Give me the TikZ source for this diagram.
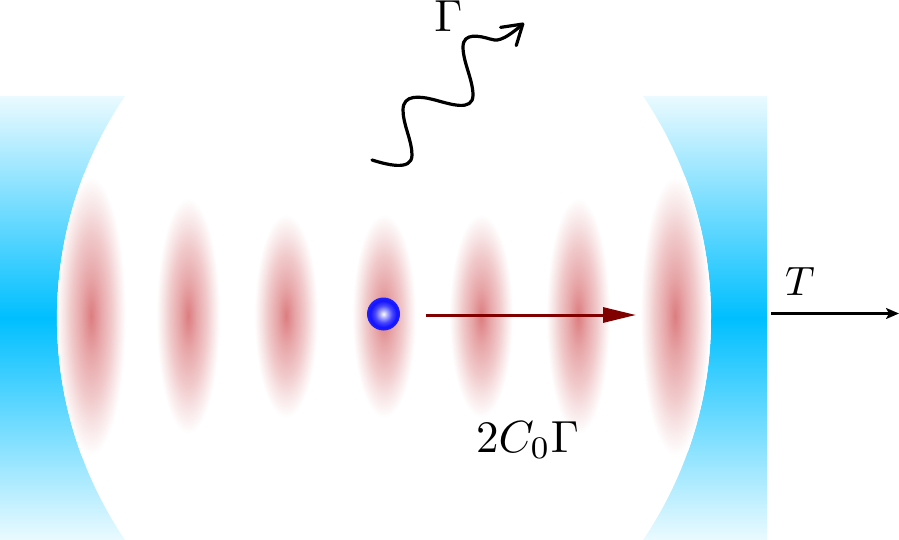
\documentclass[tikz,border=0pt]{standalone}
\usetikzlibrary{arrows.meta,shadings}
\definecolor{sky}{RGB}{0,191,255}
\definecolor{blobc}{RGB}{220,125,128}
\pgfdeclareradialshading{blobshade}{\pgfpoint{0bp}{0bp}}{
  color(0bp)=(blobc);
  color(7bp)=(blobc!68!white);
  color(14bp)=(blobc!42!white);
  color(19bp)=(blobc!20!white);
  color(24bp)=(white);
  color(50bp)=(white)}
\pgfdeclareradialshading{atomshade}{\pgfpoint{0bp}{0bp}}{
  color(0bp)=(white);
  color(6bp)=(blue!35!white);
  color(13bp)=(blue!72!white);
  color(20bp)=(blue!92!white);
  color(25bp)=(blue!88!white);
  color(50bp)=(blue!88!white)}
\pgfdeclareverticalshading{mirrorshade}{100bp}{
  color(0bp)=(sky!8!white);
  color(25bp)=(sky!8!white);
  color(50bp)=(sky);
  color(75bp)=(sky!8!white);
  color(100bp)=(sky!8!white)}
\tikzset{
  x=1pt,y=-1pt,
  mirror/.style={shading=mirrorshade},
  lab/.style={inner sep=0pt,scale=4.1},
  biglab/.style={inner sep=0pt,scale=4.5},
  coupling/.style={draw={rgb,255:red,128;green,0;blue,0},line width=3pt,-{Triangle[length=33pt,width=15pt]}},
  output/.style={draw=black,line width=2.2pt,-{Stealth[length=13pt,width=11pt,inset=3pt]}},
  photon/.style={draw=black,line width=3.2pt,-{Straight Barb[length=19pt,width=24pt,round]},line cap=round,line join=round}
}
\begin{document}
\begin{tikzpicture}
\useasboundingbox (0,0) rectangle (899,540);
% mirrors
\path[mirror] (0,96) -- (125,96) .. controls (34.2,230) and (34.2,406) .. (125,540) -- (0,540) -- cycle;
\path[mirror] (767,96) -- (643,96) .. controls (733.8,230) and (733.8,406) .. (643,540) -- (767,540) -- cycle;
% standing-wave antinodes, kept inside the cavity
\begin{scope}
\clip (125,96) .. controls (34.2,230) and (34.2,406) .. (125,540) -- (643,540) .. controls (733.8,406) and (733.8,230) .. (643,96) -- cycle;
\foreach \n/\cx/\rx/\ry in {a/91/36/145,b/188/33/123,c/286/33/106,d/384/33/106,e/481/33/106,f/578/33/123,g/675/36/145}{
  \shade[shading=blobshade] (\cx,316) ellipse[x radius=\rx,y radius=\ry];
}
\end{scope}
% atom
\node[circle,minimum size=33pt,inner sep=0pt,shading=atomshade] (atom) at (383.5,314) {};
% coupling
\coordinate (cs) at (426,315);
\coordinate (ce) at (636,315);
\draw[coupling] (cs) -- (ce);
\node[biglab] (cl) at (527.5,440) {$2C_0\Gamma$};
% output
\coordinate (ts) at (771,313.5);
\coordinate (te) at (899,313.5);
\draw[output] (ts) -- (te);
\node[lab] (tl) at (800,281) {$T$};
% photon
\coordinate (ps) at (372,160);
\coordinate (pe) at (524,23);
\draw[photon] (ps) .. controls (385,164) and (412,172) .. (412,155)
  .. controls (412,140) and (403,125) .. (403,110)
  .. controls (403,94) and (420,96) .. (435,100)
  .. controls (450,104) and (473,112) .. (473,95)
  .. controls (473,80) and (463,62) .. (463,47)
  .. controls (463,32) and (480,36) .. (490,39)
  .. controls (496,41) and (502,42) .. (pe);
\node[biglab] (gl) at (448.5,16.5) {$\Gamma$};
\end{tikzpicture}
\end{document}
